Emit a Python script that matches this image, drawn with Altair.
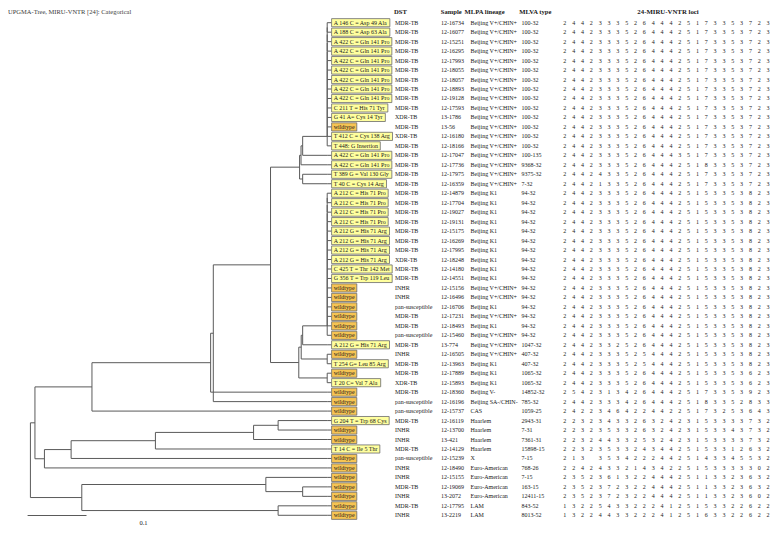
import altair as alt
import pandas as pd
import numpy as np

FONT = "Liberation Serif"

labels = (["A 146 C = Asp 49 Ala", "A 188 C = Asp 63 Ala"] + ["A 422 C = Gln 141 Pro"] * 7 +
          ["C 211 T = His 71 Tyr", "G 41 A= Cys 14 Tyr", "wildtype", "T 412 C = Cys 138 Arg",
           "T 448: G Insertion", "A 422 C = Gln 141 Pro", "A 422 C = Gln 141 Pro",
           "T 389 G = Val 130 Gly", "T 40 C = Cys 14 Arg"] +
          ["A 212 C = His 71 Pro"] * 4 + ["A 212 G = His 71 Arg"] * 4 +
          ["C 425 T = Thr 142 Met", "G 356 T = Trp 119 Leu"] + ["wildtype"] * 6 +
          ["A 212 G = His 71 Arg", "wildtype", "T 254 G= Leu 85 Arg", "wildtype", "T 20 C= Val 7 Ala",
           "wildtype", "wildtype", "wildtype", "G 204 T = Trp 68 Cys", "wildtype", "wildtype",
           "T 14 C = Ile 5 Thr"] + ["wildtype"] * 7)

dst = (["MDR-TB"] * 10 + ["XDR-TB", "MDR-TB", "XDR-TB", "MDR-TB"] + ["MDR-TB"] * 11 +
       ["XDR-TB", "MDR-TB", "MDR-TB", "INHR", "INHR", "pan-susceptible", "MDR-TB", "MDR-TB",
        "pan-susceptible", "MDR-TB", "INHR", "MDR-TB", "MDR-TB", "XDR-TB", "MDR-TB",
        "pan-susceptible", "pan-susceptible", "MDR-TB", "INHR", "INHR", "MDR-TB",
        "pan-susceptible", "INHR", "INHR", "MDR-TB", "INHR", "MDR-TB", "INHR"])

samples = ["12-16734", "12-16077", "12-15251", "12-16295", "12-17993", "12-18055", "12-18057",
           "12-18893", "12-19128", "12-17593", "13-1786", "13-56", "12-16180", "12-18166",
           "12-17047", "12-17736", "12-17975", "12-16359", "12-14879", "12-17704", "12-19027",
           "12-19131", "12-15175", "12-16269", "12-17995", "12-18248", "12-14180", "12-14551",
           "12-15156", "12-16496", "12-16706", "12-17231", "12-18493", "12-15460", "13-774",
           "12-16505", "12-13963", "12-17889", "12-15893", "12-18360", "12-16196", "12-15737",
           "12-16119", "12-13700", "13-421", "12-14129", "12-15239", "12-18490", "12-15155",
           "12-19069", "13-2072", "12-17795", "13-2219"]

V = "Beijing V+/CHIN+"
K = "Beijing K1"
lineages = ([V] * 18 + [K] * 10 + [V, V, K, V, K, V, V, V, K, K, K, "Beijing V-",
            "Beijing SA-/CHIN-", "CAS"] + ["Haarlem"] * 4 + ["X"] + ["Euro-American"] * 4 + ["LAM"] * 2)

mlva = (["100-32"] * 14 + ["100-135", "9368-32", "9375-32", "7-32"] + ["94-32"] * 16 +
        ["1047-32", "407-32", "407-32", "1065-32", "1065-32", "14852-32", "785-32", "1059-25",
         "2943-31", "7-31", "7361-31", "15898-15", "7-15", "768-26", "7-15", "163-15", "12411-15",
         "843-52", "8013-52"])

P100 = "2 4 4 2 3 3 3 5 2 6 4 4 4 2 5 1 7 3 3 5 3 7 2 3"
P94 = "2 4 4 2 3 3 3 5 2 6 4 4 4 2 5 1 5 3 3 5 3 8 2 3"
loci = ([P100] * 14 +
        ["2 4 4 2 3 3 3 5 2 6 4 4 4 3 5 1 7 3 3 5 3 7 2 3",
         "2 4 4 2 3 3 3 5 2 6 4 4 4 2 5 1 8 3 3 5 3 7 2 3",
         "2 4 4 2 4 3 3 5 2 6 4 4 4 2 5 1 7 3 3 5 3 7 2 3",
         "2 4 4 2 1 3 3 5 2 6 4 4 4 2 5 1 7 3 3 5 3 7 2 3"] +
        [P94] * 16 +
        ["2 4 4 2 3 3 2 5 2 6 4 4 4 2 5 1 5 3 3 5 3 8 2 3",
         "2 4 4 2 3 3 3 5 2 5 4 4 4 2 5 1 5 3 3 5 3 8 2 3",
         "2 4 4 2 3 3 3 5 2 5 4 4 4 2 5 1 5 3 3 5 3 8 2 3",
         "2 4 4 2 3 3 3 5 2 6 4 4 4 2 5 1 5 3 3 5 3 6 2 3",
         "2 4 4 2 3 3 3 5 2 6 4 4 4 2 5 1 5 3 3 5 3 6 2 3",
         "2 5 4 2 3 1 3 4 2 6 4 4 4 2 5 1 7 3 3 5 3 9 2 3",
         "2 4 4 2 3 3 3 4 2 6 4 4 4 2 5 1 8 3 3 5 2 8 3 3",
         "2 4 2 2 3 4 6 4 2 2 4 4 2 2 5 1 7 3 2 5 3 6 4 3",
         "2 2 3 2 3 4 3 3 2 6 3 2 4 2 3 1 5 3 3 3 3 7 3 2",
         "2 2 3 2 3 5 3 3 2 6 3 2 4 2 3 1 5 3 3 4 3 7 3 2",
         "2 2 3 2 4 4 3 3 2 5 3 2 4 2 3 1 5 3 3 3 3 7 3 2",
         "2 2 3 2 3 5 3 3 2 4 3 4 4 2 5 1 5 3 3 1 2 6 3 2",
         "2 1 3 - 3 5 3 4 2 2 2 4 4 2 5 1 4 3 3 4 5 5 3 2",
         "2 2 4 2 4 3 3 2 1 4 3 4 2 2 5 1 5 3 3 3 3 3 0 2",
         "2 3 5 2 3 6 1 3 2 2 4 4 4 2 5 1 1 3 3 2 3 6 3 2",
         "2 3 5 2 3 7 2 3 2 2 4 4 4 2 5 1 1 3 3 2 3 6 3 2",
         "2 3 5 2 3 7 2 3 2 2 4 4 4 2 5 1 1 3 3 2 3 6 0 2",
         "1 3 2 2 5 4 3 3 2 2 2 4 1 2 5 1 5 3 3 2 2 6 2 2",
         "1 3 2 2 4 4 3 3 2 2 2 4 1 2 5 1 6 3 3 2 2 6 2 2"])

headers = ["DST", "Sample", "MLPA lineage", "MLVA type", "24-MIRU-VNTR loci"]
title_text = "UPGMA-Tree, MIRU-VNTR [24]: Categorical"
scale_label = "0.1"

# ---------------- layout (pixels) ----------------
W, H = 762, 520
LEAF_X = 319.2          # x of tree tips
PX_PER_UNIT = 589.0     # tree scale
BOX_X = 323.6
DST_X, SAMPLE_X, LIN_X, MLVA_X = 387.0, 433.0, 462.5, 513.5
HDR_X = [386.0, 432.8, 456.6, 511.3]
LOCI_X0, LOCI_DX = 556.8, 8.84
LOCI_HDR_X = 660.0
ROW0_Y, ROW_DY = 14.7, 9.473
FS = 6.0
TXT = "#202020"
LINE = "#5a5a5a"

n = len(labels)
ydom = [-ROW0_Y / ROW_DY, (H - ROW0_Y) / ROW_DY]


def Y(field):
    return alt.Y(field, type="quantitative", axis=None,
                 scale=alt.Scale(domain=ydom, reverse=True, nice=False, zero=False))


# ---------------- UPGMA from the loci ----------------
prof = [[None if t == "-" else int(t) for t in s.split()] for s in loci]
D = np.zeros((n, n))
for i in range(n):
    for j in range(n):
        pr = [(a, b) for a, b in zip(prof[i], prof[j]) if a is not None and b is not None]
        D[i, j] = sum(a != b for a, b in pr) / len(pr)

clusters = [dict(m=[i], h=0.0, y=float(i)) for i in range(n)]
segs = []
while len(clusters) > 1:
    best = None
    for a in range(len(clusters)):
        for b in range(a + 1, len(clusters)):
            d = D[np.ix_(clusters[a]["m"], clusters[b]["m"])].mean()
            if best is None or d < best[0] - 1e-9:
                best = (d, a, b)
    d, a, b = best
    A, B = clusters[a], clusters[b]
    segs.append(dict(h1=d, h2=d, y1=A["y"], y2=B["y"]))
    segs.append(dict(h1=d, h2=A["h"], y1=A["y"], y2=A["y"]))
    segs.append(dict(h1=d, h2=B["h"], y1=B["y"], y2=B["y"]))
    clusters[a] = dict(m=A["m"] + B["m"], h=d, y=(A["y"] + B["y"]) / 2)
    del clusters[b]
segs = pd.DataFrame(segs)

tree_scale = alt.Scale(domain=[LEAF_X / PX_PER_UNIT, 0], range=[0, LEAF_X], nice=False, zero=False)

tree = alt.Chart(segs).mark_rule(color=LINE, strokeWidth=1).encode(
    x=alt.X("h1:Q", scale=tree_scale, axis=None), x2="h2:Q", y=Y("y1"), y2="y2:Q")

# ---------------- table ----------------
CW = {" ": .25, "=": .564, ":": .278, "-": .333, "A": .722, "B": .667, "C": .667, "D": .722,
      "G": .722, "H": .722, "I": .333, "L": .611, "M": .889, "P": .556, "T": .611, "V": .722,
      "a": .444, "c": .444, "e": .444, "g": .5, "h": .5, "i": .278, "l": .278, "n": .5, "o": .5,
      "p": .5, "r": .333, "s": .389, "t": .278, "u": .5, "w": .722, "y": .5, "d": .5}


def tw(s):
    return sum(CW.get(c, .5) for c in s) * FS


tbl = pd.DataFrame(dict(row=range(n), label=labels, dst=dst, sample=samples, lineage=lineages, mlva=mlva))
tbl["kind"] = ["wildtype" if l == "wildtype" else "mutation" for l in labels]
tbl["bx0"] = BOX_X
tbl["bx1"] = [BOX_X + tw(l) + 4.2 for l in labels]
tbl["yt"] = tbl["row"] - 0.43
tbl["yb"] = tbl["row"] + 0.43

px_scale = alt.Scale(domain=[0, W], range=[0, W], nice=False, zero=False)

stubs = alt.Chart(tbl).mark_rule(color=LINE, strokeWidth=1).encode(
    x=alt.value(LEAF_X), x2=alt.value(BOX_X), y=Y("row"))

boxes = alt.Chart(tbl).mark_rect(stroke="#6b6b6b", strokeWidth=0.8).encode(
    x=alt.X("bx0:Q", scale=px_scale, axis=None), x2="bx1:Q", y=Y("yt"), y2="yb:Q",
    color=alt.Color("kind:N", legend=None,
                    scale=alt.Scale(domain=["mutation", "wildtype"], range=["#ffff9e", "#f6c453"])))


def col(field, xpx):
    return alt.Chart(tbl).mark_text(align="left", baseline="middle", font=FONT, fontSize=FS,
                                    color=TXT).encode(x=alt.value(xpx), y=Y("row"), text=f"{field}:N")


label_txt = col("label", BOX_X + 2.1)
dst_txt = col("dst", DST_X)
sample_txt = col("sample", SAMPLE_X)
lin_txt = col("lineage", LIN_X)
mlva_txt = col("mlva", MLVA_X)

lrows = []
for r, s in enumerate(loci):
    for k, t in enumerate(s.split()):
        lrows.append(dict(row=r, k=k, v="" if t == "-" else t))
ldf = pd.DataFrame(lrows)
loci_txt = alt.Chart(ldf).mark_text(align="center", baseline="middle", font=FONT, fontSize=FS,
                                    color=TXT).encode(
    x=alt.X("k:Q", axis=None, scale=alt.Scale(domain=[0, 23], range=[LOCI_X0, LOCI_X0 + 23 * LOCI_DX],
                                              nice=False, zero=False)),
    y=Y("row"), text="v:N")

hdr_layers = [alt.Chart(pd.DataFrame(dict(t=[h]))).mark_text(
    align="left", baseline="middle", font=FONT, fontSize=6.6, fontWeight="bold", color=TXT).encode(
    x=alt.value(x), y=alt.value(4), text="t:N") for h, x in zip(headers[:4], HDR_X)]
hdr_layers.append(alt.Chart(pd.DataFrame(dict(t=[headers[4]]))).mark_text(
    align="center", baseline="middle", font=FONT, fontSize=6.8, fontWeight="bold", color=TXT).encode(
    x=alt.value(LOCI_HDR_X), y=alt.value(4), text="t:N"))

title = alt.Chart(pd.DataFrame(dict(t=[title_text]))).mark_text(
    align="left", baseline="middle", font=FONT, fontSize=6.5, color="#3a3a3a").encode(
    x=alt.value(0), y=alt.value(4), text="t:N")

sb = pd.DataFrame(dict(a=[0.0], b=[0.1], lab=[scale_label]))
sb_scale = alt.Scale(domain=[0, 0.1], range=[19.6, 19.6 + 0.1 * PX_PER_UNIT], nice=False, zero=False)
scalebar = alt.Chart(sb).mark_rule(color=LINE, strokeWidth=1).encode(
    x=alt.X("a:Q", scale=sb_scale, axis=None), x2="b:Q", y=alt.value(507.5))
scalelab = alt.Chart(sb).mark_text(font=FONT, fontSize=6.5, color=TXT, baseline="middle").encode(
    x=alt.value(135.5), y=alt.value(515), text="lab:N")

chart = alt.layer(tree, stubs, boxes, label_txt, dst_txt, sample_txt, lin_txt, mlva_txt, loci_txt,
                  *hdr_layers, title, scalebar, scalelab).resolve_scale(x="independent").properties(
    width=W, height=H, padding=0, autosize="none").configure_view(stroke=None)

chart.save("out.html", embed_options={"renderer": "svg", "actions": False})
